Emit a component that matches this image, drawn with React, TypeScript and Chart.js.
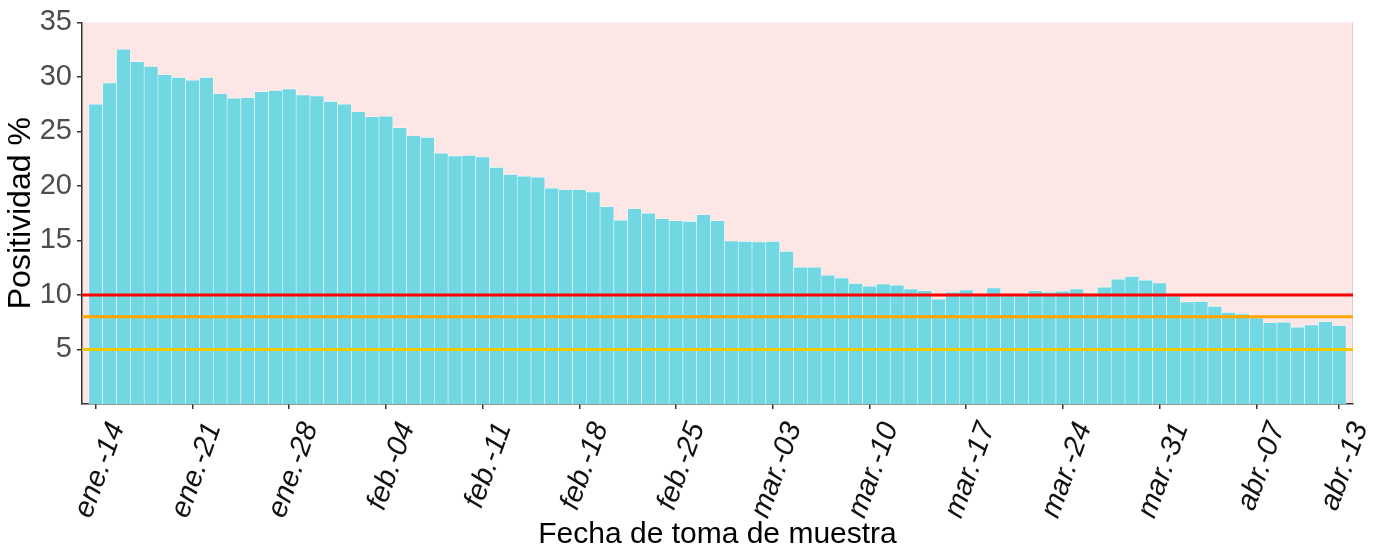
import React, { useEffect, useRef } from "react";
import { Chart, registerables } from "chart.js";

Chart.register(...registerables);

const dates: string[] = [
  "ene.-14", "ene.-15", "ene.-16", "ene.-17", "ene.-18", "ene.-19", "ene.-20",
  "ene.-21", "ene.-22", "ene.-23", "ene.-24", "ene.-25", "ene.-26", "ene.-27",
  "ene.-28", "ene.-29", "ene.-30", "ene.-31", "feb.-01", "feb.-02", "feb.-03",
  "feb.-04", "feb.-05", "feb.-06", "feb.-07", "feb.-08", "feb.-09", "feb.-10",
  "feb.-11", "feb.-12", "feb.-13", "feb.-14", "feb.-15", "feb.-16", "feb.-17",
  "feb.-18", "feb.-19", "feb.-20", "feb.-21", "feb.-22", "feb.-23", "feb.-24",
  "feb.-25", "feb.-26", "feb.-27", "feb.-28", "feb.-29", "mar.-01", "mar.-02",
  "mar.-03", "mar.-04", "mar.-05", "mar.-06", "mar.-07", "mar.-08", "mar.-09",
  "mar.-10", "mar.-11", "mar.-12", "mar.-13", "mar.-14", "mar.-15", "mar.-16",
  "mar.-17", "mar.-18", "mar.-19", "mar.-20", "mar.-21", "mar.-22", "mar.-23",
  "mar.-24", "mar.-25", "mar.-26", "mar.-27", "mar.-28", "mar.-29", "mar.-30",
  "mar.-31", "abr.-01", "abr.-02", "abr.-03", "abr.-04", "abr.-05", "abr.-06",
  "abr.-07", "abr.-08", "abr.-09", "abr.-10", "abr.-11", "abr.-12", "abr.-13",
];

const positivity: number[] = [
  27.5, 29.45, 32.55, 31.4, 30.95, 30.2, 29.95,
  29.7, 29.95, 28.45, 28.05, 28.1, 28.65, 28.75,
  28.9, 28.35, 28.25, 27.75, 27.5, 26.8, 26.35,
  26.4, 25.35, 24.6, 24.45, 23.0, 22.75, 22.8,
  22.65, 21.7, 21.05, 20.9, 20.8, 19.8, 19.65,
  19.65, 19.45, 18.1, 16.85, 17.9, 17.5, 17.0,
  16.8, 16.75, 17.35, 16.8, 14.95, 14.9, 14.85,
  14.9, 14.0, 12.55, 12.55, 11.8, 11.55, 11.05,
  10.8, 11.0, 10.9, 10.55, 10.4, 9.6, 10.25,
  10.45, 9.95, 10.65, 9.9, 9.9, 10.4, 10.25,
  10.35, 10.55, 10.15, 10.7, 11.45, 11.7, 11.35,
  11.1, 9.9, 9.35, 9.4, 8.95, 8.4, 8.25,
  7.9, 7.45, 7.5, 7.05, 7.25, 7.55, 7.2,
];

const tickIndices: number[] = [0, 7, 14, 21, 28, 35, 42, 49, 56, 63, 70, 77, 84, 90];
const yTickValues: number[] = [5, 10, 15, 20, 25, 30, 35];

const thresholdValues: number[] = [10, 8, 5];
const thresholdColors: string[] = ["#FF0000", "#FFA500", "#EEC900"];

const FONT = "'Liberation Sans', Arial, Helvetica, sans-serif";

const backgroundPlugin = {
  id: "plotBackground",
  beforeDraw(chart: any) {
    const { ctx, chartArea } = chart;
    const { left, top, right, bottom } = chartArea;
    ctx.save();
    ctx.fillStyle = "#FDE7E6";
    ctx.fillRect(left, top, right - left, bottom - top);
    ctx.strokeStyle = "#D8CFCF";
    ctx.lineWidth = 1;
    ctx.beginPath();
    ctx.moveTo(right - 0.5, top);
    ctx.lineTo(right - 0.5, bottom);
    ctx.stroke();
    ctx.restore();
  },
};

const thresholdPlugin = {
  id: "thresholdLines",
  afterDatasetsDraw(chart: any) {
    const { ctx, chartArea, scales } = chart;
    const y = scales.y;
    ctx.save();
    thresholdValues.forEach((v, i) => {
      const py = y.getPixelForValue(v);
      ctx.strokeStyle = thresholdColors[i];
      ctx.lineWidth = 3;
      ctx.beginPath();
      ctx.moveTo(chartArea.left, py);
      ctx.lineTo(chartArea.right, py);
      ctx.stroke();
    });
    ctx.restore();
  },
};

export default function App() {
  const canvasRef = useRef<HTMLCanvasElement | null>(null);

  useEffect(() => {
    if (!canvasRef.current) return;
    const chart = new Chart(canvasRef.current, {
      type: "bar",
      data: {
        datasets: [
          {
            label: "Positividad %",
            data: positivity.map((v, i) => ({ x: i, y: v })),
            backgroundColor: "#71D8E3",
            borderColor: "#F2F9F9",
            borderWidth: 0.6,
            borderSkipped: "start",
            barPercentage: 1,
            categoryPercentage: 1,
          } as any,
        ],
      },
      options: {
        animation: false,
        responsive: true,
        maintainAspectRatio: false,
        layout: { padding: { top: 20, right: 24, left: 0, bottom: 0 } },
        plugins: {
          legend: { display: false },
          tooltip: { enabled: false },
        },
        scales: {
          x: {
            type: "linear",
            min: -1,
            max: 91,
            offset: false,
            z: 1,
            afterBuildTicks: (s: any) => {
              s.ticks = tickIndices.map((v) => ({ value: v }));
            },
            afterFit: (s: any) => {
              s.height = 146;
              s.paddingLeft = 0;
              s.paddingRight = 0;
            },
            grid: {
              offset: false,
              drawOnChartArea: false,
              drawTicks: true,
              tickLength: 5,
              color: "#333333",
              lineWidth: 1.5,
            },
            border: { display: true, color: "#333333", width: 1.5 },
            ticks: {
              autoSkip: false,
              minRotation: 70,
              maxRotation: 70,
              padding: 9,
              labelOffset: 21,
              color: "#111111",
              font: { family: FONT, size: 29, style: "italic" },
              callback: (v: any) => dates[v as number] ?? "",
            },
            title: {
              display: true,
              text: "Fecha de toma de muestra",
              color: "#000000",
              font: { family: FONT, size: 30, lineHeight: 1 },
              padding: 0,
            },
          } as any,
          y: {
            min: 0,
            max: 35,
            z: 1,
            afterBuildTicks: (s: any) => {
              s.ticks = yTickValues.map((v) => ({ value: v }));
            },
            afterFit: (s: any) => {
              s.width = 82;
            },
            grid: {
              drawOnChartArea: false,
              drawTicks: true,
              tickLength: 5,
              color: "#333333",
              lineWidth: 1.5,
            },
            border: { display: true, color: "#333333", width: 1.5 },
            ticks: {
              padding: 5,
              color: "#4D4D4D",
              font: { family: FONT, size: 29 },
            },
            title: {
              display: true,
              text: "Positividad %",
              color: "#000000",
              font: { family: FONT, size: 32, lineHeight: 1 },
              padding: { top: 5, bottom: 0 },
            },
          } as any,
        },
      },
      plugins: [backgroundPlugin, thresholdPlugin],
    });
    return () => chart.destroy();
  }, []);

  return (
    <div
      style={{
        position: "fixed",
        left: 0,
        top: 0,
        width: 1377,
        height: 550,
        background: "#ffffff",
      }}
    >
      <canvas ref={canvasRef} />
    </div>
  );
}
